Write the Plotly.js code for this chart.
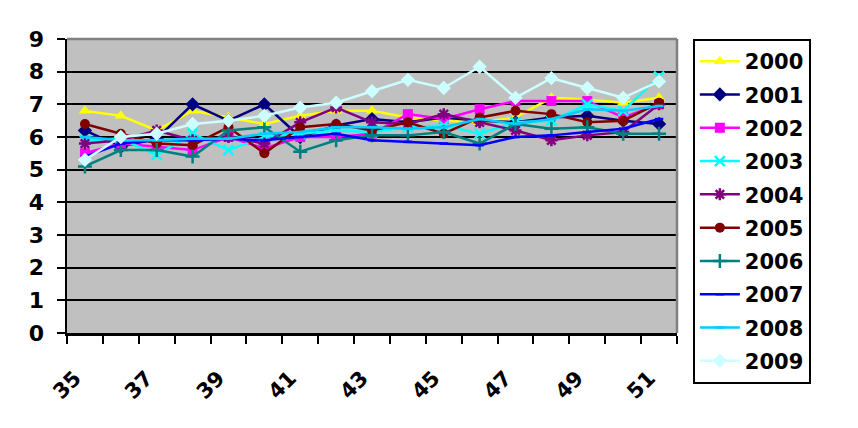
<!DOCTYPE html>
<html>
<head>
<meta charset="utf-8">
<script src="https://cdn.plot.ly/plotly-3.0.1.min.js"></script>
<style>html,body{margin:0;padding:0;background:#fff;}#chart{width:858px;height:428px;}</style>
</head>
<body>
<div id="chart"></div>
<script>
var categories = [35,36,37,38,39,40,41,42,43,44,45,46,47,48,49,50,51];
var tickLabels = ["35","37","39","41","43","45","47","49","51"];
var tickCats = [35,37,39,41,43,45,47,49,51];

var s2000 = [6.8,6.65,6.2,6.8,6.6,6.4,6.65,6.8,6.8,6.6,6.5,6.45,6.6,7.2,7.15,7.05,7.2];
var s2001 = [6.2,5.7,5.95,7.0,6.5,7.0,6.0,6.35,6.55,6.45,6.6,6.5,6.45,6.6,6.65,6.5,6.4];
var s2002 = [5.5,5.8,5.7,5.6,6.0,5.65,6.0,6.0,6.1,6.7,6.55,6.85,7.1,7.1,7.1,6.6,7.0];
var s2003 = [5.9,5.95,5.45,6.1,5.6,6.0,6.1,6.2,6.15,6.3,6.35,6.1,6.45,6.5,7.0,6.8,7.85];
var s2004 = [5.8,5.9,6.2,5.9,6.0,5.8,6.45,6.9,6.45,6.4,6.7,6.45,6.2,5.9,6.05,6.15,7.0];
var s2005 = [6.4,6.1,5.8,5.75,6.3,5.5,6.3,6.4,6.2,6.45,6.1,6.6,6.8,6.7,6.45,6.5,7.05];
var s2006 = [5.1,5.6,5.6,5.4,6.2,6.3,5.55,5.9,6.05,6.05,6.15,5.8,6.4,6.25,6.3,6.1,6.1];
var s2007 = [5.4,5.8,5.9,5.9,5.95,5.9,6.0,6.1,5.9,5.85,5.8,5.75,6.0,6.05,6.15,6.25,6.55];
var s2008 = [6.0,5.9,5.9,5.95,5.95,6.1,6.15,6.3,6.3,6.25,6.3,6.55,6.4,6.55,6.85,6.8,6.95];
var s2009 = [5.3,6.0,6.1,6.4,6.5,6.65,6.9,7.05,7.4,7.75,7.5,8.15,7.2,7.8,7.5,7.2,7.7];

var seriesNames = ["2000","2001","2002","2003","2004","2005","2006","2007","2008","2009"];
var seriesValues = [s2000,s2001,s2002,s2003,s2004,s2005,s2006,s2007,s2008,s2009];
var colors = ["#FFFF00","#000080","#FF00FF","#00FFFF","#800080","#800000","#008080","#0000FF","#00CCFF","#CCFFFF"];
var symbols = ["triangle-up","diamond","square","x-thin","asterisk","circle","cross-thin","line-ew","line-ew","diamond"];
var sizes = [11,11,10,10,10,10,10,6,6,11];

var traces = seriesNames.map(function(n,i){
  var thin = (symbols[i].indexOf("thin")>=0 || symbols[i]==="asterisk" || symbols[i]==="line-ew");
  return {
    x: categories, y: seriesValues[i], name: n, type: "scatter", mode: "lines+markers",
    legendgroup: "g"+i,
    line: {color: colors[i], width: 2.5},
    marker: {symbol: symbols[i], size: sizes[i], color: colors[i],
             line: {color: colors[i], width: thin ? 2.5 : 0}}
  };
});

var FONT = "DejaVu Sans, Arial, sans-serif";
var layout = {
  width: 858, height: 428,
  margin: {l: 67, r: 181, t: 39, b: 95},
  paper_bgcolor: "#FFFFFF",
  plot_bgcolor: "#C0C0C0",
  font: {family: FONT, color: "#000"},
  showlegend: true,
  legend: {
    x: 1.026, y: 1.0, xanchor: "left", yanchor: "top",
    bordercolor: "#000", borderwidth: 2, bgcolor: "#FFFFFF",
    font: {size: 21, weight: "bold", family: FONT},
    tracegroupgap: 3, itemwidth: 40, maxheight: 420
  },
  xaxis: {
    type: "linear", range: [34.5, 51.5], fixedrange: true,
    tickmode: "array", tickvals: tickCats, ticktext: tickLabels,
    ticks: "", tickangle: -45,
    tickfont: {size: 21, weight: "bold", family: FONT},
    ticklabelstandoff: 22, ticklabelshift: -10,
    showgrid: false, zeroline: false,
    showline: true, linecolor: "#000", linewidth: 2.5,
    minor: {tickmode: "linear", tick0: 34.5, dtick: 1, ticks: "outside", ticklen: 8, tickwidth: 2, tickcolor: "#000", showgrid: false}
  },
  yaxis: {
    range: [0, 9], fixedrange: true, tickmode: "linear", tick0: 0, dtick: 1,
    ticks: "outside", ticklen: 8, tickwidth: 2, tickcolor: "#000",
    tickfont: {size: 22, weight: "bold", family: FONT},
    ticklabelstandoff: 8,
    showgrid: true, gridcolor: "#000", gridwidth: 2,
    zeroline: false, showline: true, linecolor: "#000", linewidth: 2.5
  },
  shapes: [
    {type: "line", xref: "paper", yref: "paper", x0: 0, x1: 1, y0: 1, y1: 1, line: {color: "#808080", width: 2.5}, layer: "above"},
    {type: "line", xref: "paper", yref: "paper", x0: 1, x1: 1, y0: 0, y1: 1, line: {color: "#808080", width: 2.5}, layer: "above"}
  ]
};

Plotly.newPlot("chart", traces, layout, {displayModeBar: false, staticPlot: true});
</script>
</body>
</html>
